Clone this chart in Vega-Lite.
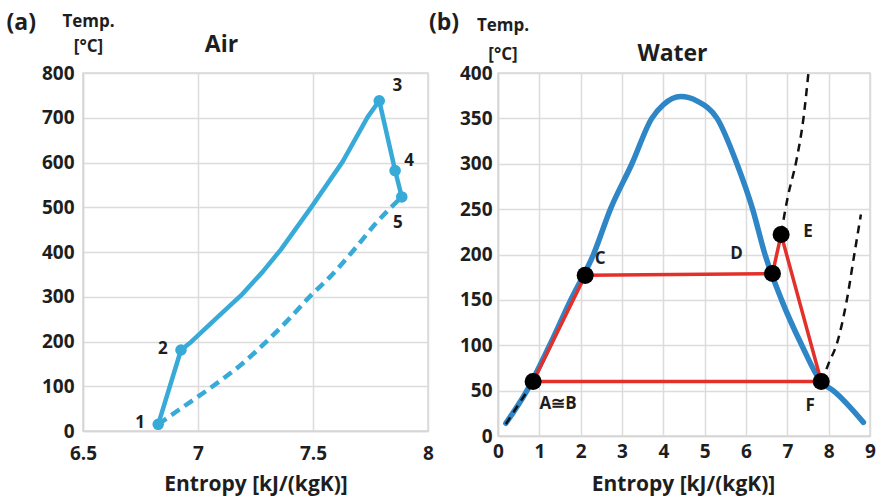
{
  "$schema": "https://vega.github.io/schema/vega-lite/v6.json",
  "background": "white",
  "padding": {"left": 5, "top": 10, "right": 2, "bottom": 1},
  "spacing": -8,
  "config": {
    "font": "Open Sans",
    "view": {"stroke": "#d6d6d6", "strokeWidth": 1.5},
    "axis": {
      "labelFont": "Open Sans", "labelFontWeight": "bold", "labelFontSize": 19, "labelColor": "#1e1e1e",
      "titleFont": "Open Sans", "titleFontWeight": "bold", "titleColor": "#1e1e1e",
      "gridColor": "#dcdcdc", "gridWidth": 1.5, "domainColor": "#d6d6d6", "domainWidth": 1.5,
      "ticks": false, "labelFlush": false, "labelOverlap": false
    }
  },
  "datasets": {
    "airSolid": [
      {"i": 1, "s": 6.827, "T": 15},
      {"i": 2, "s": 6.926, "T": 181},
      {"i": 3, "s": 6.970, "T": 199},
      {"i": 4, "s": 7.078, "T": 251},
      {"i": 5, "s": 7.187, "T": 303},
      {"i": 6, "s": 7.28, "T": 355},
      {"i": 7, "s": 7.361, "T": 406},
      {"i": 8, "s": 7.495, "T": 502},
      {"i": 9, "s": 7.629, "T": 602},
      {"i": 10, "s": 7.738, "T": 702},
      {"i": 11, "s": 7.788, "T": 738},
      {"i": 12, "s": 7.857, "T": 582},
      {"i": 13, "s": 7.886, "T": 523}
    ],
    "airDashed": [
      {"i": 1, "s": 6.827, "T": 15},
      {"i": 2, "s": 6.919, "T": 48},
      {"i": 3, "s": 7.064, "T": 100},
      {"i": 4, "s": 7.187, "T": 148},
      {"i": 5, "s": 7.296, "T": 199},
      {"i": 6, "s": 7.397, "T": 251},
      {"i": 7, "s": 7.491, "T": 303},
      {"i": 8, "s": 7.575, "T": 345},
      {"i": 9, "s": 7.68, "T": 406},
      {"i": 10, "s": 7.775, "T": 465},
      {"i": 11, "s": 7.886, "T": 523}
    ],
    "airPoints": [
      {"label": "1", "s": 6.827, "T": 15},
      {"label": "2", "s": 6.926, "T": 181},
      {"label": "3", "s": 7.788, "T": 738},
      {"label": "4", "s": 7.857, "T": 582},
      {"label": "5", "s": 7.886, "T": 523}
    ],
    "dome": [
      {"i": 1, "s": 0.19, "T": 14},
      {"i": 2, "s": 0.70, "T": 50},
      {"i": 3, "s": 1.25, "T": 100},
      {"i": 4, "s": 1.76, "T": 150},
      {"i": 5, "s": 2.31, "T": 200},
      {"i": 6, "s": 2.72, "T": 250},
      {"i": 7, "s": 3.24, "T": 300},
      {"i": 8, "s": 3.72, "T": 350},
      {"i": 9, "s": 4.0, "T": 365},
      {"i": 10, "s": 4.42, "T": 374},
      {"i": 11, "s": 4.82, "T": 369},
      {"i": 12, "s": 5.3, "T": 350},
      {"i": 13, "s": 5.78, "T": 300},
      {"i": 14, "s": 6.16, "T": 250},
      {"i": 15, "s": 6.46, "T": 200},
      {"i": 16, "s": 6.86, "T": 150},
      {"i": 17, "s": 7.35, "T": 100},
      {"i": 18, "s": 7.83, "T": 59},
      {"i": 19, "s": 8.11, "T": 50},
      {"i": 20, "s": 8.84, "T": 15}
    ],
    "isobars": [
      {"seg": "a", "i": 1, "s": 0.19, "T": 13},
      {"seg": "a", "i": 2, "s": 0.5, "T": 35},
      {"seg": "a", "i": 3, "s": 0.82, "T": 57},
      {"seg": "b", "i": 1, "s": 6.85, "T": 223},
      {"seg": "b", "i": 2, "s": 7.0, "T": 261},
      {"seg": "b", "i": 3, "s": 7.23, "T": 306},
      {"seg": "b", "i": 4, "s": 7.39, "T": 350},
      {"seg": "b", "i": 5, "s": 7.51, "T": 400},
      {"seg": "c", "i": 1, "s": 7.83, "T": 59},
      {"seg": "c", "i": 2, "s": 8.0, "T": 80},
      {"seg": "c", "i": 3, "s": 8.2, "T": 102},
      {"seg": "c", "i": 4, "s": 8.44, "T": 150},
      {"seg": "c", "i": 5, "s": 8.62, "T": 200},
      {"seg": "c", "i": 6, "s": 8.78, "T": 244}
    ],
    "cycle": [
      {"i": 1, "s": 0.85, "T": 60},
      {"i": 2, "s": 2.11, "T": 177},
      {"i": 3, "s": 6.64, "T": 179},
      {"i": 4, "s": 6.85, "T": 222},
      {"i": 5, "s": 7.82, "T": 60},
      {"i": 6, "s": 0.85, "T": 60}
    ],
    "waterPoints": [
      {"label": "A≅B", "s": 0.85, "T": 60},
      {"label": "C", "s": 2.11, "T": 177},
      {"label": "D", "s": 6.64, "T": 179},
      {"label": "E", "s": 6.85, "T": 222},
      {"label": "F", "s": 7.82, "T": 60}
    ]
  },
  "hconcat": [
    {
      "width": 345,
      "height": 358,
      "resolve": {"axis": {"x": "independent"}},
      "layer": [
        {
          "data": {"name": "airSolid"},
          "mark": {"type": "line", "color": "#38aad8", "strokeWidth": 4.5, "strokeJoin": "round"},
          "encoding": {
            "x": {"field": "s", "type": "quantitative", "scale": {"domain": [6.5, 8], "nice": false, "zero": false},
                  "axis": {"title": "Entropy [kJ/(kgK)]", "values": [6.5, 7, 7.5, 8], "format": "~g", "titleFontSize": 21, "labelPadding": 13, "titleX": 172.5, "titleY": 42, "titleBaseline": "top", "titleAlign": "center", "grid": true}},
            "y": {"field": "T", "type": "quantitative", "scale": {"domain": [0, 800], "nice": false},
                  "axis": {"title": "Temp.", "titleAngle": 0, "titleAlign": "center", "titleBaseline": "alphabetic", "titleX": 5, "titleY": -47, "titleFontSize": 17, "values": [0, 100, 200, 300, 400, 500, 600, 700, 800], "labelPadding": 9, "grid": true}},
            "order": {"field": "i", "type": "quantitative"}
          }
        },
        {
          "data": {"name": "airDashed"},
          "mark": {"type": "line", "color": "#38aad8", "strokeWidth": 4.5, "strokeDash": [10, 6], "interpolate": "monotone"},
          "encoding": {
            "x": {"field": "s", "type": "quantitative",
                  "axis": {"orient": "top", "title": "Air", "labels": false, "grid": false, "domain": false, "ticks": false, "titleFontSize": 23, "titleX": 138, "titleY": -22, "titleBaseline": "alphabetic", "titleAlign": "center"}},
            "y": {"field": "T", "type": "quantitative"},
            "order": {"field": "i", "type": "quantitative"}
          }
        },
        {
          "data": {"name": "airPoints"},
          "mark": {"type": "circle", "color": "#38aad8", "opacity": 1, "size": 135},
          "encoding": {
            "x": {"field": "s", "type": "quantitative",
                  "axis": {"orient": "top", "title": "[°C]", "labels": false, "grid": false, "domain": false, "ticks": false, "titleFontSize": 17, "titleX": 5, "titleY": -22, "titleBaseline": "alphabetic", "titleAlign": "center"}},
            "y": {"field": "T", "type": "quantitative"}
          }
        },
        {
          "data": {"name": "airPoints"},
          "transform": [{"filter": "datum.label === '1' || datum.label === '2'"}],
          "mark": {"type": "text", "fontSize": 17, "fontWeight": "bold", "color": "#1e1e1e", "dx": -18, "dy": -1, "baseline": "middle"},
          "encoding": {
            "x": {"field": "s", "type": "quantitative",
                  "axis": {"orient": "top", "title": "(a)", "labels": false, "grid": false, "domain": false, "ticks": false, "titleFontSize": 23, "titleX": -77, "titleY": -44, "titleBaseline": "alphabetic", "titleAlign": "left"}},
            "y": {"field": "T", "type": "quantitative"},
            "text": {"field": "label"}
          }
        },
        {
          "data": {"name": "airPoints"},
          "transform": [{"filter": "datum.label === '3'"}],
          "mark": {"type": "text", "fontSize": 17, "fontWeight": "bold", "color": "#1e1e1e", "dx": 18, "dy": -15, "baseline": "middle"},
          "encoding": {
            "x": {"field": "s", "type": "quantitative", "axis": null},
            "y": {"field": "T", "type": "quantitative"},
            "text": {"field": "label"}
          }
        },
        {
          "data": {"name": "airPoints"},
          "transform": [{"filter": "datum.label === '4'"}],
          "mark": {"type": "text", "fontSize": 17, "fontWeight": "bold", "color": "#1e1e1e", "dx": 14, "dy": -10, "baseline": "middle"},
          "encoding": {
            "x": {"field": "s", "type": "quantitative", "axis": null},
            "y": {"field": "T", "type": "quantitative"},
            "text": {"field": "label"}
          }
        },
        {
          "data": {"name": "airPoints"},
          "transform": [{"filter": "datum.label === '5'"}],
          "mark": {"type": "text", "fontSize": 17, "fontWeight": "bold", "color": "#1e1e1e", "dx": -4, "dy": 26, "baseline": "middle"},
          "encoding": {
            "x": {"field": "s", "type": "quantitative", "axis": null},
            "y": {"field": "T", "type": "quantitative"},
            "text": {"field": "label"}
          }
        }
      ]
    },
    {
      "width": 372,
      "height": 363,
      "resolve": {"axis": {"x": "independent"}},
      "layer": [
        {
          "data": {"name": "dome"},
          "mark": {"type": "line", "color": "#2f86c6", "strokeWidth": 5.5, "strokeJoin": "round", "strokeCap": "round", "interpolate": "monotone"},
          "encoding": {
            "x": {"field": "s", "type": "quantitative", "scale": {"domain": [0, 9], "nice": false},
                  "axis": {"title": "Entropy [kJ/(kgK)]", "values": [0, 1, 2, 3, 4, 5, 6, 7, 8, 9], "titleFontSize": 21, "labelPadding": 6, "titleX": 185, "titleY": 37, "titleBaseline": "top", "titleAlign": "center", "grid": true}},
            "y": {"field": "T", "type": "quantitative", "scale": {"domain": [0, 400], "nice": false},
                  "axis": {"title": "Temp.", "titleAngle": 0, "titleAlign": "center", "titleBaseline": "alphabetic", "titleX": 4.5, "titleY": -43, "titleFontSize": 17, "values": [0, 50, 100, 150, 200, 250, 300, 350, 400], "labelPadding": 6, "grid": true}},
            "order": {"field": "i", "type": "quantitative"}
          }
        },
        {
          "data": {"name": "isobars"},
          "mark": {"type": "line", "color": "#111111", "strokeWidth": 2.5, "strokeDash": [8, 6], "interpolate": "monotone"},
          "encoding": {
            "x": {"field": "s", "type": "quantitative",
                  "axis": {"orient": "top", "title": "Water", "labels": false, "grid": false, "domain": false, "ticks": false, "titleFontSize": 23, "titleX": 174, "titleY": -13, "titleBaseline": "alphabetic", "titleAlign": "center"}},
            "y": {"field": "T", "type": "quantitative"},
            "detail": {"field": "seg"},
            "order": {"field": "i", "type": "quantitative"}
          }
        },
        {
          "data": {"name": "cycle"},
          "mark": {"type": "line", "color": "#e3302b", "strokeWidth": 3.5, "strokeJoin": "round"},
          "encoding": {
            "x": {"field": "s", "type": "quantitative",
                  "axis": {"orient": "top", "title": "[°C]", "labels": false, "grid": false, "domain": false, "ticks": false, "titleFontSize": 17, "titleX": 4.5, "titleY": -14, "titleBaseline": "alphabetic", "titleAlign": "center"}},
            "y": {"field": "T", "type": "quantitative"},
            "order": {"field": "i", "type": "quantitative"}
          }
        },
        {
          "data": {"name": "waterPoints"},
          "mark": {"type": "circle", "color": "#000000", "opacity": 1, "size": 290},
          "encoding": {
            "x": {"field": "s", "type": "quantitative", "axis": null},
            "y": {"field": "T", "type": "quantitative"}
          }
        },
        {
          "data": {"name": "waterPoints"},
          "transform": [{"filter": "datum.label === 'A≅B'"}],
          "mark": {"type": "text", "fontSize": 17, "fontWeight": "bold", "color": "#1e1e1e", "dx": 25, "dy": 22, "baseline": "middle"},
          "encoding": {
            "x": {"field": "s", "type": "quantitative",
                  "axis": {"orient": "top", "title": "(b)", "labels": false, "grid": false, "domain": false, "ticks": false, "titleFontSize": 23, "titleX": -69.5, "titleY": -44, "titleBaseline": "alphabetic", "titleAlign": "left"}},
            "y": {"field": "T", "type": "quantitative"},
            "text": {"field": "label"}
          }
        },
        {
          "data": {"name": "waterPoints"},
          "transform": [{"filter": "datum.label === 'C'"}],
          "mark": {"type": "text", "fontSize": 17, "fontWeight": "bold", "color": "#1e1e1e", "dx": 15, "dy": -16, "baseline": "middle"},
          "encoding": {
            "x": {"field": "s", "type": "quantitative", "axis": null},
            "y": {"field": "T", "type": "quantitative"},
            "text": {"field": "label"}
          }
        },
        {
          "data": {"name": "waterPoints"},
          "transform": [{"filter": "datum.label === 'D'"}],
          "mark": {"type": "text", "fontSize": 17, "fontWeight": "bold", "color": "#1e1e1e", "dx": -36, "dy": -20, "baseline": "middle"},
          "encoding": {
            "x": {"field": "s", "type": "quantitative", "axis": null},
            "y": {"field": "T", "type": "quantitative"},
            "text": {"field": "label"}
          }
        },
        {
          "data": {"name": "waterPoints"},
          "transform": [{"filter": "datum.label === 'E'"}],
          "mark": {"type": "text", "fontSize": 17, "fontWeight": "bold", "color": "#1e1e1e", "dx": 27, "dy": -3, "baseline": "middle"},
          "encoding": {
            "x": {"field": "s", "type": "quantitative", "axis": null},
            "y": {"field": "T", "type": "quantitative"},
            "text": {"field": "label"}
          }
        },
        {
          "data": {"name": "waterPoints"},
          "transform": [{"filter": "datum.label === 'F'"}],
          "mark": {"type": "text", "fontSize": 17, "fontWeight": "bold", "color": "#1e1e1e", "dx": -11, "dy": 24, "baseline": "middle"},
          "encoding": {
            "x": {"field": "s", "type": "quantitative", "axis": null},
            "y": {"field": "T", "type": "quantitative"},
            "text": {"field": "label"}
          }
        }
      ]
    }
  ]
}
